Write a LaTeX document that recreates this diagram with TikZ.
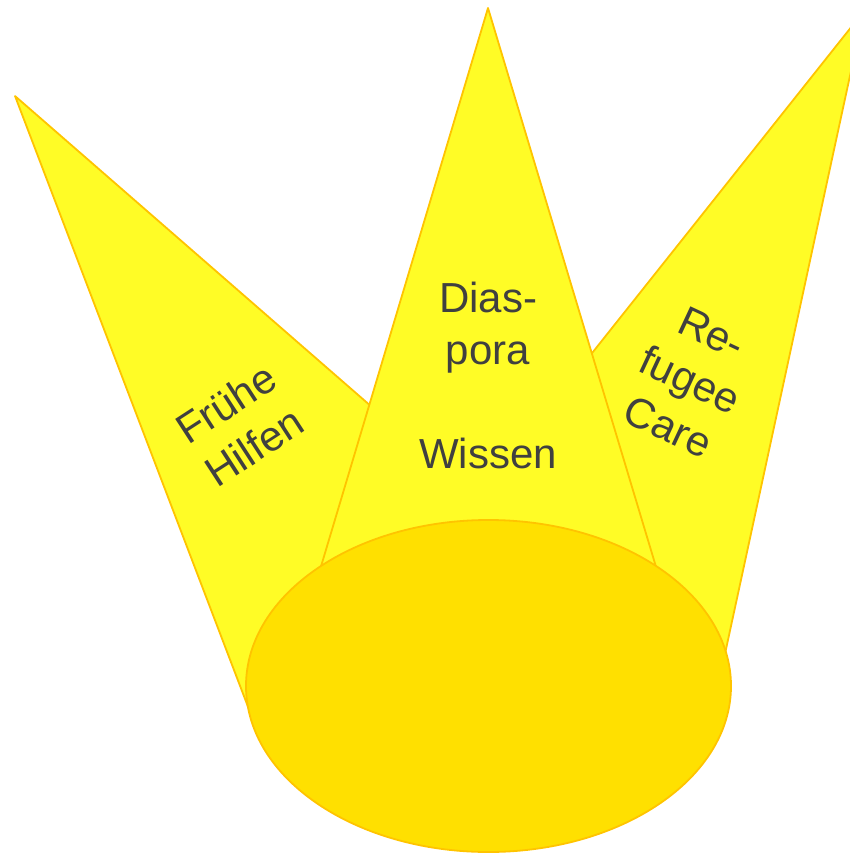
\documentclass[tikz,border=0pt]{standalone}
\usepackage{fontspec}
\setmainfont{Liberation Sans}
\definecolor{rayfill}{RGB}{255,252,38}
\definecolor{rayline}{RGB}{255,196,0}
\definecolor{ballfill}{RGB}{255,224,0}
\definecolor{txt}{RGB}{64,64,64}
\tikzset{
  ray/.style={fill=rayfill, draw=rayline, line width=1.8pt, line join=round},
  ball/.style={fill=ballfill, draw=rayline, line width=1.8pt},
  lbl/.style={text=txt, font=\fontsize{42}{52}\selectfont, align=center, inner sep=0pt}
}
\begin{document}
\begin{tikzpicture}[x=1pt,y=-1pt]
\useasboundingbox (0,0) rectangle (850,853);
\clip (0,0) rectangle (850,853);
% left ray
\draw[ray] (15,96) -- (450,475) -- (250,712) -- cycle;
% right ray
\draw[ray] (864,11) -- (515,450) -- (715,700) -- cycle;
% middle ray
\draw[ray] (488,8) -- (681,650) -- (296,650) -- cycle;
% ball
\draw[ball] (488.5,686) ellipse [x radius=242.5, y radius=166];
% labels
\node[lbl, rotate=33] (fh) at (240,425) {Frühe\\Hilfen};
\node[lbl] (dw) at (488,375) {Dias-\\pora\\[52pt]Wissen};
\node[lbl, rotate=-25] (rc) at (690,380) {Re-\\fugee\\Care};
\end{tikzpicture}
\end{document}
